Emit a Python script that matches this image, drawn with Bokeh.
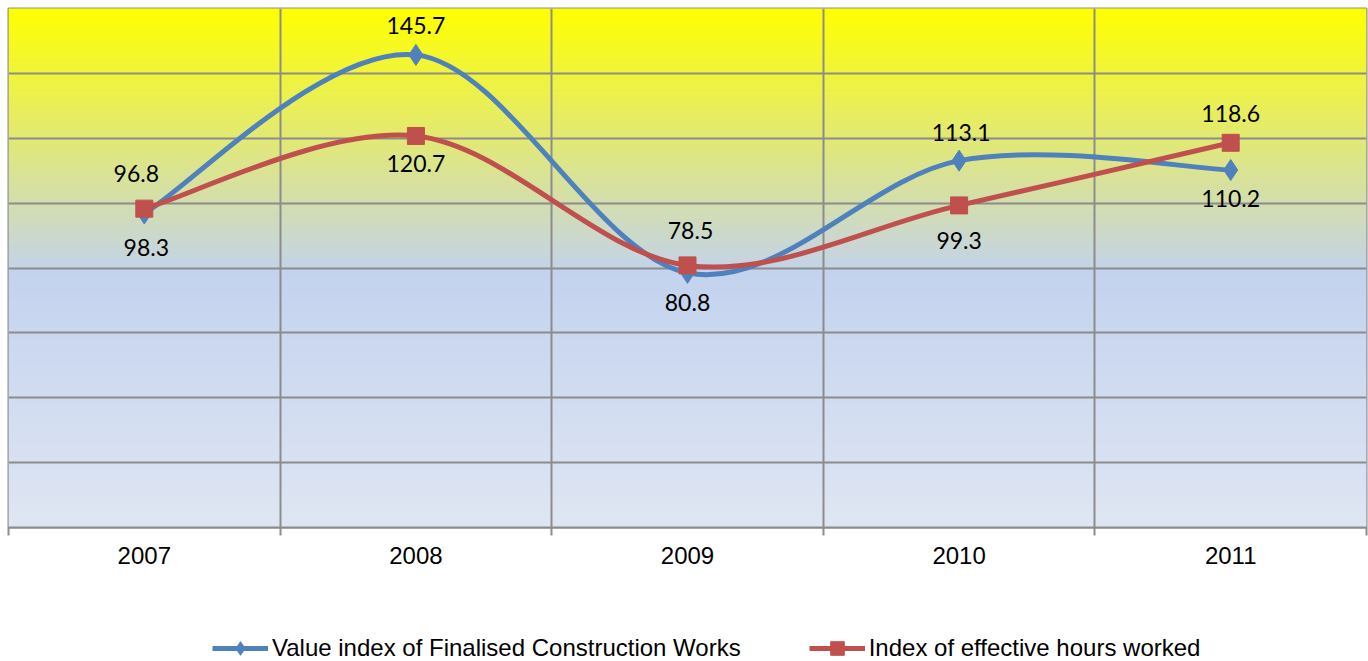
import numpy as np
from bokeh.plotting import figure
from bokeh.layouts import column
from bokeh.models import ColumnDataSource, FixedTicker, Legend, LegendItem, Range1d
from bokeh.core.properties import value
from bokeh.embed import file_html
from bokeh.resources import INLINE

# ---- data ----
years = ["2007", "2008", "2009", "2010", "2011"]
value_index = [96.8, 145.7, 78.5, 113.1, 110.2]
hours_index = [98.3, 120.7, 80.8, 99.3, 118.6]
series_names = ["Value index of Finalised Construction Works",
                "Index of effective hours worked"]

# ---- label placement (screen px; dy positive = down) ----
value_lbl_dx = [-8, 0, 3, 2, 0]
value_lbl_dy = [-40, -29, -42, -28, 28]
hours_lbl_dx = [2, 0, 0, 0, 0]
hours_lbl_dy = [39, 28, 37, 35, -29]

BLUE = "#4F81BD"
RED = "#C0504D"
GRID = "#8C8C8C"

xs = list(range(len(years)))

p = figure(width=1368, height=580, output_backend="svg", toolbar_location=None,
           x_range=Range1d(-0.5, len(years) - 0.5), y_range=Range1d(0, 160),
           y_axis_location=None, min_border_left=8, min_border_right=2,
           min_border_top=8, min_border_bottom=53)
p.background_fill_color = "white"
p.border_fill_color = "white"
p.outline_line_color = GRID
p.outline_line_width = 2


def mix(c0, c1, t):
    a = [int(c0[i:i + 2], 16) for i in (1, 3, 5)]
    b = [int(c1[i:i + 2], 16) for i in (1, 3, 5)]
    return "#%02x%02x%02x" % tuple(int(round(a[k] + (b[k] - a[k]) * t)) for k in range(3))


# gradient background (decoration)
step = 0.5
bots = np.arange(0, 160, step)
cols = []
for b in bots:
    yc = b + step / 2
    if yc >= 80:
        cols.append(mix("#C4D3E8", "#FFFF00", (yc - 80) / 80))
    else:
        cols.append(mix("#DFE6F3", "#C3D2EE", yc / 80))
bg = p.quad(left=-0.5, right=len(years) - 0.5, bottom=bots, top=bots + step * 1.6,
            fill_color=cols, line_color=None)
bg.level = "image"

p.ygrid.ticker = FixedTicker(ticks=[20, 40, 60, 80, 100, 120, 140])
p.xgrid.ticker = FixedTicker(ticks=[i + 0.5 for i in range(len(years) - 1)])
p.grid.grid_line_color = GRID
p.grid.grid_line_width = 2

ax = p.xaxis[0]
ax.ticker = FixedTicker(ticks=xs, minor_ticks=[i - 0.5 for i in range(len(years) + 1)])
ax.major_label_overrides = {i: y for i, y in enumerate(years)}
ax.major_tick_line_color = None
ax.major_tick_in = 0
ax.major_tick_out = 0
ax.minor_tick_in = 0
ax.minor_tick_out = 8
ax.minor_tick_line_color = GRID
ax.minor_tick_line_width = 2
ax.axis_line_color = GRID
ax.axis_line_width = 2
ax.major_label_standoff = 11
ax.major_label_text_font = "Liberation Sans"
ax.major_label_text_font_size = "24px"
ax.major_label_text_color = "black"


def bez(xv, yv):
    n = len(xv)
    P = list(zip(xv, yv))
    d = dict(x0=[], y0=[], x1=[], y1=[], cx0=[], cy0=[], cx1=[], cy1=[])
    for i in range(n - 1):
        p0 = P[max(i - 1, 0)]
        p1 = P[i]
        p2 = P[i + 1]
        p3 = P[min(i + 2, n - 1)]
        d["x0"].append(p1[0]); d["y0"].append(p1[1])
        d["x1"].append(p2[0]); d["y1"].append(p2[1])
        d["cx0"].append(p1[0] + (p2[0] - p0[0]) / 6)
        d["cy0"].append(p1[1] + (p2[1] - p0[1]) / 6)
        d["cx1"].append(p2[0] - (p3[0] - p1[0]) / 6)
        d["cy1"].append(p2[1] - (p3[1] - p1[1]) / 6)
    return ColumnDataSource(d)


for vals, col, marker, msize in [(value_index, BLUE, "diamond", 21),
                                 (hours_index, RED, "square", 17)]:
    p.bezier(x0="x0", y0="y0", x1="x1", y1="y1", cx0="cx0", cy0="cy0",
             cx1="cx1", cy1="cy1", source=bez(xs, vals), line_color=col,
             line_width=5, line_cap="round")
    p.scatter(xs, vals, marker=marker, size=msize, fill_color=col, line_color=col)

lab_font = value("Lato")
p.text(x=xs, y=value_index, text=[f"{v:.1f}" for v in value_index],
       x_offset=value_lbl_dx, y_offset=value_lbl_dy, text_align="center",
       text_baseline="middle", text_font=lab_font, text_font_size="23px",
       text_color="black")
p.text(x=xs, y=hours_index, text=[f"{v:.1f}" for v in hours_index],
       x_offset=hours_lbl_dx, y_offset=hours_lbl_dy, text_align="center",
       text_baseline="middle", text_font=lab_font, text_font_size="23px",
       text_color="black")

# ---- legend strip (separate figure below the chart) ----
q = figure(width=1368, height=81, output_backend="svg", toolbar_location=None,
           x_range=Range1d(0, 1), y_range=Range1d(0, 1),
           x_axis_location=None, y_axis_location=None,
           min_border_left=0, min_border_right=0, min_border_top=0, min_border_bottom=0)
q.outline_line_color = None
q.grid.visible = False
q.background_fill_color = "white"
q.border_fill_color = "white"
# legend swatch renderers, kept off-screen
lb_l = q.line(x=[-5, -4], y=[-5, -5], line_color=BLUE, line_width=5)
lb_s = q.scatter(x=[-5], y=[-5], marker="diamond", size=17, fill_color=BLUE, line_color=BLUE)
lr_l = q.line(x=[-5, -4], y=[-5, -5], line_color=RED, line_width=5)
lr_s = q.scatter(x=[-5], y=[-5], marker="square", size=12, fill_color=RED, line_color=RED)
legend = Legend(items=[LegendItem(label=series_names[0], renderers=[lb_l, lb_s]),
                       LegendItem(label=series_names[1], renderers=[lr_l, lr_s])],
                orientation="horizontal", location=(204, -4),
                glyph_width=56, glyph_height=34, label_standoff=4, spacing=68,
                padding=0, margin=0, border_line_color=None,
                background_fill_alpha=0, label_text_font="Liberation Sans",
                label_text_font_size="24px", label_text_color="black")
q.add_layout(legend, "center")

open("out.html", "w").write(file_html(column(p, q, spacing=0), INLINE))
